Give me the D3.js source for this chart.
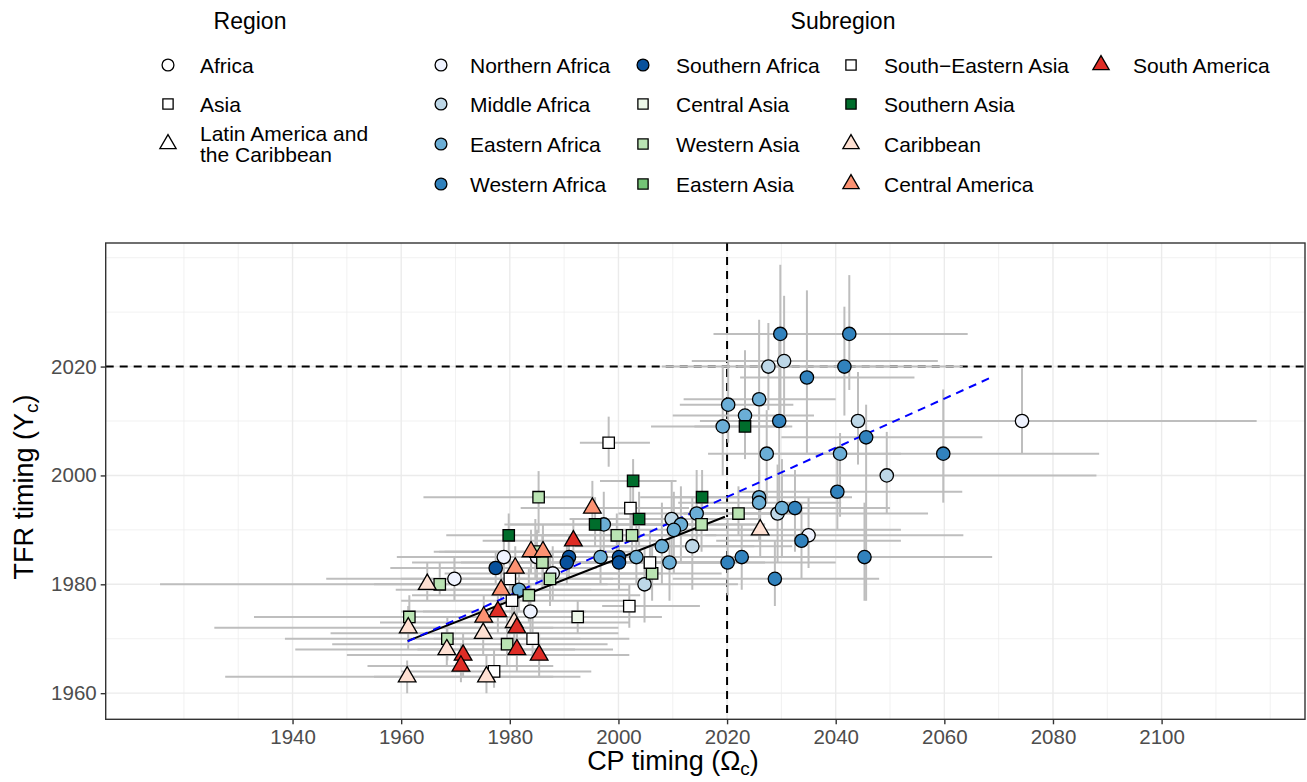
<!DOCTYPE html>
<html>
<head>
<meta charset="utf-8">
<script src="https://cdn.jsdelivr.net/npm/d3@7"></script>
<style>
  body { margin: 0; background: #fff; }
  text { font-family: "Liberation Sans", Arial, sans-serif; }
</style>
</head>
<body>
<div id="chart"></div>
<script>
// legend categories
const regions = ["Africa", "Asia", "Latin America and the Caribbean"];
const regionShapes = ["circle", "square", "triangle"];

const subregions = ["Northern Africa", "Middle Africa", "Eastern Africa", "Western Africa",
	"Southern Africa", "Central Asia", "Western Asia", "Eastern Asia",
	"South\u2212Eastern Asia", "Southern Asia", "Caribbean", "Central America", "South America"];
const subregionColors = ["#eff3ff", "#bdd7e7", "#6baed6", "#3182bd",
	"#08519c", "#edf8e9", "#bae4b3", "#74c476",
	"#ffffff", "#006d2c", "#fee0d2", "#fc9272", "#de2d26"];
const subregionShapes = ["circle", "circle", "circle", "circle",
	"circle", "square", "square", "square",
	"square", "square", "triangle", "triangle", "triangle"];

// rows: [CP timing, TFR timing, CP low, CP high, TFR low, TFR high]
const northernAfrica = [
	[1969.8, 1981, 1946.2, 1990, 1977, 1985],
	[1978.9, 1985, 1959.2, 1997, 1982, 1988],
	[1985.0, 1985, 1966, 2004, 1980, 1990],
	[1987.9, 1982, 1968, 2008, 1977, 1987],
	[1983.8, 1975, 1964, 2003, 1970, 1980],
	[2035.0, 1989, 2016, 2063.5, 1983, 1996],
	[2074.3, 2010, 2030, 2117.5, 2004.1, 2019.7]
];
const middleAfrica = [
	[2027.6, 2020, 2008, 2050, 2012, 2028],
	[2030.5, 2021, 2013.5, 2058.8, 2010, 2033],
	[2044.1, 2010, 2026, 2064, 2002, 2019],
	[2049.4, 2000, 2030, 2088, 1993, 2008],
	[2029.3, 1993, 2012, 2057, 1984, 2002],
	[2009.8, 1992, 1995, 2026, 1985, 1999],
	[2013.6, 1987, 1997, 2032, 1979, 1996],
	[2004.8, 1980, 1988, 2022, 1973, 1987]
];
const easternAfrica = [
	[1981.7, 1979, 1963, 2002, 1975, 1984],
	[1997.3, 1991, 1980, 2014, 1986, 1997],
	[1996.7, 1985, 1978, 2016, 1980, 1990],
	[2003.3, 1985, 1985, 2022, 1980, 1991],
	[2020.2, 2013, 2011.3, 2032.2, 2006, 2021],
	[2025.9, 2014, 2012, 2040, 1998.6, 2028.6],
	[2023.3, 2011, 2010, 2036, 2004, 2023],
	[2019.2, 2009, 2006, 2031, 2000, 2020],
	[2027.3, 2004, 2016.5, 2042, 1995, 2012],
	[2040.8, 2004, 2029.8, 2052, 1992.4, 2007.8],
	[2025.9, 1996, 2010, 2043, 1990, 2003],
	[2025.9, 1995, 2011, 2041, 1988, 2001],
	[2030.1, 1994, 2014, 2048, 1985, 2003],
	[2014.4, 1993, 2000, 2030, 1986, 2001],
	[2011.5, 1991, 1997, 2027, 1984, 1998],
	[2010.2, 1990, 1995, 2027, 1982, 1997],
	[2008.0, 1987, 1992, 2025, 1980, 1995],
	[2009.4, 1984, 1993, 2027, 1977, 1992]
];
const westernAfrica = [
	[2029.8, 2026, 2017.5, 2046, 2011, 2038.7],
	[2042.5, 2026, 2028, 2064.3, 2015.7, 2036.8],
	[2041.6, 2020, 2022, 2063.4, 2011, 2031],
	[2034.7, 2018, 2022.4, 2054.5, 2004, 2034],
	[2029.6, 2010, 2015, 2046, 1995, 2025],
	[2045.6, 2007, 2030, 2067, 1977, 2013],
	[2059.8, 2004, 2036, 2088.5, 1995, 2015.8],
	[2040.3, 1997, 2022, 2063.3, 1990, 2004],
	[2032.5, 1994, 2017, 2050, 1986, 2001],
	[2033.7, 1988, 2018, 2052, 1981, 1995],
	[2020.1, 1984, 2004, 2040, 1978, 1992],
	[2022.7, 1985, 2006, 2041, 1979, 1991],
	[2028.8, 1981, 2010, 2048, 1976, 1988],
	[2045.3, 1985, 2025, 2068.8, 1977, 1995]
];
const southernAfrica = [
	[1977.4, 1983, 1958, 1994, 1980, 1986],
	[1990.9, 1985, 1972, 2009, 1981, 1989],
	[1990.5, 1984, 1971, 2010, 1980, 1988],
	[2000.1, 1985, 1981, 2018, 1981, 1990],
	[2000.1, 1984, 1982, 2019, 1979, 1989]
];
const centralAsia = [
	[1992.5, 1974, 1975, 2008, 1971, 1977]
];
const westernAsia = [
	[1967.1, 1980, 1955, 1985, 1978, 1984],
	[1985.3, 1996, 1964.1, 1995.4, 1989.4, 2000.8],
	[1984.7, 1986, 1967, 2001, 1981, 1992],
	[1986.0, 1984, 1962, 2006, 1979, 1989],
	[1987.4, 1981, 1969, 2005, 1976, 1986],
	[1983.5, 1978, 1962, 2004, 1973, 1983],
	[1999.7, 1989, 1984, 2015, 1985, 1993],
	[2002.5, 1989, 1986, 2018, 1985, 1994],
	[1961.5, 1974, 1932.9, 1985, 1971, 1978],
	[1968.5, 1970, 1938.6, 1993, 1966, 1974],
	[1979.5, 1969, 1947.3, 1998, 1965, 1974],
	[2022.1, 1993, 2012, 2033, 1989, 1998],
	[2015.3, 1991, 2003, 2027, 1986, 1996],
	[2006.2, 1982, 1994, 2019, 1977, 1987]
];
const easternAsia = [];
const southEasternAsia = [
	[1980.0, 1981, 1960, 1999, 1977, 1985],
	[1980.4, 1977, 1960, 2001, 1973, 1981],
	[2002.0, 1976, 1997, 2015, 1972, 1980],
	[2002.2, 1994, 1989.5, 2013, 1990, 1998],
	[1998.2, 2006, 1992.9, 2005.8, 2001.6, 2010.8],
	[1977.1, 1964, 1960, 1995, 1961, 1968],
	[1984.2, 1970, 1966, 2002, 1966, 1975],
	[2005.8, 1984, 1993, 2019, 1979, 1990]
];
const southernAsia = [
	[1979.8, 1989, 1968.3, 1992.3, 1985, 1993],
	[2002.7, 1999, 1996.6, 2010.7, 1995, 2003],
	[1995.7, 1991, 1979, 2011, 1987, 1996],
	[2023.3, 2009, 2014, 2032, 2003, 2015],
	[2015.4, 1996, 2004, 2027, 1991, 2001],
	[2003.8, 1992, 1991, 2017, 1987, 1997]
];
const caribbean = [
	[1964.8, 1980, 1915.6, 1998, 1977, 1984],
	[1961.3, 1972, 1925.6, 1988, 1968, 1976],
	[1961.1, 1963, 1927.6, 1988, 1960, 1966],
	[1968.4, 1968, 1940.5, 1992, 1965, 1972],
	[1975.1, 1971, 1947, 2000, 1967, 1975],
	[1975.7, 1963, 1955, 1993, 1960, 1967],
	[1980.8, 1973, 1956.1, 2002, 1969, 1977],
	[2026.1, 1990, 2010, 2052, 1985, 1996]
];
const centralAmerica = [
	[1981.0, 1983, 1963, 1996, 1979, 1987],
	[1978.4, 1979, 1959, 1995, 1975, 1983],
	[1983.9, 1986, 1966, 2000, 1982, 1990],
	[1986.1, 1986, 1968, 2003, 1982, 1991],
	[1975.2, 1974, 1956, 1993, 1970, 1978],
	[1995.2, 1994, 1982, 2008, 1990, 1999]
];
const southAmerica = [
	[1977.8, 1975, 1960, 1994, 1971, 1979],
	[1991.7, 1988, 1975, 2007, 1984, 1992],
	[1971.4, 1967, 1950, 1992, 1963, 1971],
	[1971.0, 1965, 1953.8, 1988, 1962, 1969],
	[1981.3, 1972, 1962, 2000, 1968, 1976],
	[1981.3, 1968, 1963, 1999, 1964, 1972],
	[1985.4, 1967, 1968, 2002, 1963, 1971]
];
const bySubregion = [northernAfrica, middleAfrica, easternAfrica, westernAfrica,
	southernAfrica, centralAsia, westernAsia, easternAsia,
	southEasternAsia, southernAsia, caribbean, centralAmerica, southAmerica];

// fitted lines: [x, y] ends
const fitAll = [[1961.2, 1969.5], [2068.4, 2017.9]];
const fitEarly = [[1961.2, 1969.6], [2019.6, 1992.4]];

const xTicks = [1940, 1960, 1980, 2000, 2020, 2040, 2060, 2080, 2100];
const yTicks = [1960, 1980, 2000, 2020];
const xMinor = [1920, 1930, 1950, 1970, 1990, 2010, 2030, 2050, 2070, 2090, 2110, 2120];
const yMinor = [1970, 1990, 2010, 2030, 2040];
const refYear = 2020;

draw()

function draw() {
	var W = 1307, H = 782;
	var panel = { left: 105.7, right: 1305, top: 243, bottom: 719.3 };

	var svg = d3.select("#chart").append("svg")
		.attr("width", W).attr("height", H);

	var x = d3.scaleLinear().domain([1905.6, 2126.4]).range([panel.left, panel.right]);
	var y = d3.scaleLinear().domain([1955.2, 2042.7]).range([panel.bottom, panel.top]);

	// table built from the named arrays
	var rows = [];
	bySubregion.forEach(function (arr, i) {
		arr.forEach(function (r) {
			rows.push({ sub: i, cp: r[0], tfr: r[1], cpLo: r[2], cpHi: r[3], tfrLo: r[4], tfrHi: r[5] });
		});
	});

	svg.append("rect").attr("x", panel.left).attr("y", panel.top)
		.attr("width", panel.right - panel.left).attr("height", panel.bottom - panel.top)
		.attr("fill", "#fff");

	svg.append("clipPath").attr("id", "clip").append("rect")
		.attr("x", panel.left).attr("y", panel.top)
		.attr("width", panel.right - panel.left).attr("height", panel.bottom - panel.top);

	var g = svg.append("g").attr("clip-path", "url(#clip)");

	// grid
	g.selectAll(".xminor").data(xMinor).enter().append("line")
		.attr("x1", d => x(d)).attr("x2", d => x(d))
		.attr("y1", panel.top).attr("y2", panel.bottom)
		.attr("stroke", "#ebebeb").attr("stroke-width", 0.7);
	g.selectAll(".yminor").data(yMinor).enter().append("line")
		.attr("y1", d => y(d)).attr("y2", d => y(d))
		.attr("x1", panel.left).attr("x2", panel.right)
		.attr("stroke", "#ebebeb").attr("stroke-width", 0.7);
	g.selectAll(".xmajor").data(xTicks).enter().append("line")
		.attr("x1", d => x(d)).attr("x2", d => x(d))
		.attr("y1", panel.top).attr("y2", panel.bottom)
		.attr("stroke", "#ebebeb").attr("stroke-width", 1.4);
	g.selectAll(".ymajor").data(yTicks).enter().append("line")
		.attr("y1", d => y(d)).attr("y2", d => y(d))
		.attr("x1", panel.left).attr("x2", panel.right)
		.attr("stroke", "#ebebeb").attr("stroke-width", 1.4);

	// reference lines
	g.append("line").attr("x1", x(refYear)).attr("x2", x(refYear))
		.attr("y1", panel.top).attr("y2", panel.bottom)
		.attr("stroke", "#000").attr("stroke-width", 2).attr("stroke-dasharray", "8,6");
	g.append("line").attr("y1", y(refYear)).attr("y2", y(refYear))
		.attr("x1", panel.left).attr("x2", panel.right)
		.attr("stroke", "#000").attr("stroke-width", 2).attr("stroke-dasharray", "8,6");

	// error bars
	g.selectAll(".hbar").data(rows).enter().append("line")
		.attr("x1", d => x(d.cpLo)).attr("x2", d => x(d.cpHi))
		.attr("y1", d => y(d.tfr)).attr("y2", d => y(d.tfr))
		.attr("stroke", "#bebebe").attr("stroke-width", 2);
	g.selectAll(".vbar").data(rows).enter().append("line")
		.attr("x1", d => x(d.cp)).attr("x2", d => x(d.cp))
		.attr("y1", d => y(d.tfrLo)).attr("y2", d => y(d.tfrHi))
		.attr("stroke", "#bebebe").attr("stroke-width", 2);

	// fitted lines
	var line = d3.line().x(d => x(d[0])).y(d => y(d[1]));
	g.append("path").datum(fitEarly).attr("d", line)
		.attr("fill", "none").attr("stroke", "#000").attr("stroke-width", 2);
	g.append("path").datum(fitAll).attr("d", line)
		.attr("fill", "none").attr("stroke", "#0000ff").attr("stroke-width", 2)
		.attr("stroke-dasharray", "8,6");

	// points
	var sym = {
		circle: d3.symbol().type(d3.symbolCircle).size(140),
		square: d3.symbol().type(d3.symbolSquare).size(130),
		triangle: d3.symbol().type(d3.symbolTriangle).size(135)
	};
	g.selectAll(".pt").data(rows).enter().append("path")
		.attr("transform", d => `translate(${x(d.cp)},${y(d.tfr)})`)
		.attr("d", d => sym[subregionShapes[d.sub]]())
		.attr("fill", d => subregionColors[d.sub])
		.attr("stroke", "#000").attr("stroke-width", 1.3);

	// panel border
	svg.append("rect").attr("x", panel.left).attr("y", panel.top)
		.attr("width", panel.right - panel.left).attr("height", panel.bottom - panel.top)
		.attr("fill", "none").attr("stroke", "#333").attr("stroke-width", 1.4);

	// axes
	var xAxis = svg.append("g").attr("transform", `translate(0,${panel.bottom})`)
		.call(d3.axisBottom(x).tickValues(xTicks).tickFormat(d3.format("d")).tickSize(5).tickPadding(5));
	var yAxis = svg.append("g").attr("transform", `translate(${panel.left},0)`)
		.call(d3.axisLeft(y).tickValues(yTicks).tickFormat(d3.format("d")).tickSize(5).tickPadding(4));
	[xAxis, yAxis].forEach(function (a) {
		a.select(".domain").remove();
		a.selectAll(".tick line").attr("stroke", "#333").attr("stroke-width", 1.4);
		a.selectAll(".tick text").attr("fill", "#4d4d4d")
			.style("font-size", "20.5px").style("font-family", "Liberation Sans, Arial, sans-serif");
	});

	// axis titles
	var xt = svg.append("text").attr("x", 673).attr("y", 770)
		.attr("text-anchor", "middle").style("font-size", "27px");
	xt.append("tspan").text("CP timing (\u03A9");
	xt.append("tspan").text("c").style("font-size", "19px").attr("dy", 5);
	xt.append("tspan").text(")").attr("dy", -5);

	var yt = svg.append("text")
		.attr("transform", `translate(33,${487}) rotate(-90)`)
		.attr("text-anchor", "middle").style("font-size", "27px");
	yt.append("tspan").text("TFR timing (Y");
	yt.append("tspan").text("c").style("font-size", "19px").attr("dy", 5);
	yt.append("tspan").text(")").attr("dy", -5);

	// legends
	var legSym = {
		circle: d3.symbol().type(d3.symbolCircle).size(110),
		square: d3.symbol().type(d3.symbolSquare).size(105),
		triangle: d3.symbol().type(d3.symbolTriangle).size(115)
	};
	var rowY = [65, 104, 144, 184];

	svg.append("text").attr("x", 250).attr("y", 29).attr("text-anchor", "middle")
		.style("font-size", "23px").text("Region");
	var rl = svg.append("g");
	regions.forEach(function (r, i) {
		rl.append("path").attr("transform", `translate(168,${rowY[i]})`)
			.attr("d", legSym[regionShapes[i]]())
			.attr("fill", "#fff").attr("stroke", "#000").attr("stroke-width", 1.3);
	});
	rl.append("text").attr("x", 200).attr("y", rowY[0] + 7.5).style("font-size", "21px").text(regions[0]);
	rl.append("text").attr("x", 200).attr("y", rowY[1] + 7.5).style("font-size", "21px").text(regions[1]);
	var t3 = rl.append("text").attr("x", 200).attr("y", rowY[2] - 3).style("font-size", "21px");
	t3.append("tspan").attr("x", 200).text("Latin America and");
	t3.append("tspan").attr("x", 200).attr("dy", 21).text("the Caribbean");

	svg.append("text").attr("x", 843).attr("y", 29).attr("text-anchor", "middle")
		.style("font-size", "23px").text("Subregion");
	var colSym = [441, 643, 851, 1101];
	var colTxt = [470, 676, 884, 1133];
	var sl = svg.append("g");
	subregions.forEach(function (s, i) {
		var c = Math.floor(i / 4), r = i % 4;
		sl.append("path").attr("transform", `translate(${colSym[c]},${rowY[r]})`)
			.attr("d", legSym[subregionShapes[i]]())
			.attr("fill", subregionColors[i]).attr("stroke", "#000").attr("stroke-width", 1.3);
		sl.append("text").attr("x", colTxt[c]).attr("y", rowY[r] + 7.5)
			.style("font-size", "21px").text(s);
	});
}
</script>
</body>
</html>
